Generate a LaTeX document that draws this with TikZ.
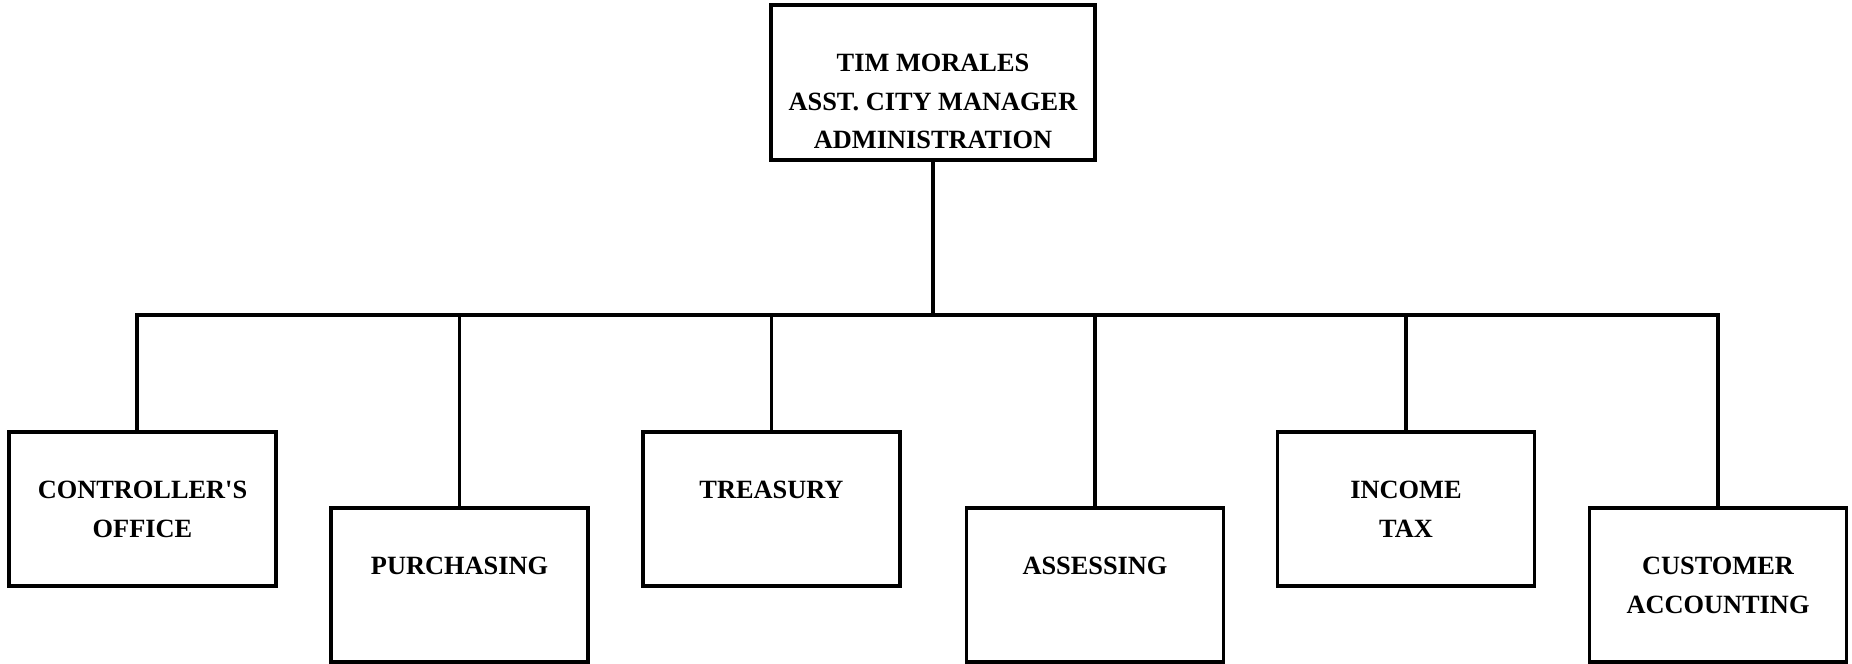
\documentclass[tikz,border=0pt]{standalone}
\usepackage{fontspec}
\setmainfont{Liberation Serif}
\usetikzlibrary{positioning}

\begin{document}
\begin{tikzpicture}[x=0.02cm,y=-0.02cm,line width=2pt]
            \tikzstyle{every node}+=[inner sep=0pt]
            \tikzstyle{unit}=[draw,rectangle,minimum width=5.14cm,minimum height=3.08cm]
            \tikzstyle{lbl}=[align=center,font=\fontsize{15}{22}\selectfont\bfseries]
            \useasboundingbox (0,0) rectangle (1852,663);
            % boxes
            \node [unit,minimum width=6.48cm,minimum height=3.1cm] (boss) at (933,82.5) {};
            \node [unit,minimum width=5.34cm] (ctrl) at (142.5,509) {};
            \node [unit] (purch) at (459.5,585) {};
            \node [unit] (treas) at (771.5,509) {};
            \node [unit] (assess) at (1095,585) {};
            \node [unit] (inctax) at (1406,509) {};
            \node [unit] (custacc) at (1718,585) {};
            % texts
            \node [lbl,below=0.98cm of boss.north] (boss-t) {TIM MORALES\\ASST. CITY MANAGER\\ADMINISTRATION};
            \node [lbl,below=0.98cm of ctrl.north] (ctrl-t) {CONTROLLER\textquotesingle S\\OFFICE};
            \node [lbl,below=0.98cm of purch.north] (purch-t) {PURCHASING};
            \node [lbl,below=0.98cm of treas.north] (treas-t) {TREASURY};
            \node [lbl,below=0.98cm of assess.north] (assess-t) {ASSESSING};
            \node [lbl,below=0.98cm of inctax.north] (inctax-t) {INCOME\\TAX};
            \node [lbl,below=0.98cm of custacc.north] (custacc-t) {CUSTOMER\\ACCOUNTING};
            % lines
            \coordinate (bus) at (933,315);
            \coordinate (busL) at (137,315);
            \coordinate (busR) at (custacc.north |- bus);
            \draw (boss.south) -- (bus);
            \draw (busL |- ctrl.north) -- (busL) -- (busR) -- (custacc.north);
            \foreach \n in {purch,treas,assess,inctax}
                \draw (\n.north |- bus) -- (\n.north);
        \end{tikzpicture}
\end{document}
